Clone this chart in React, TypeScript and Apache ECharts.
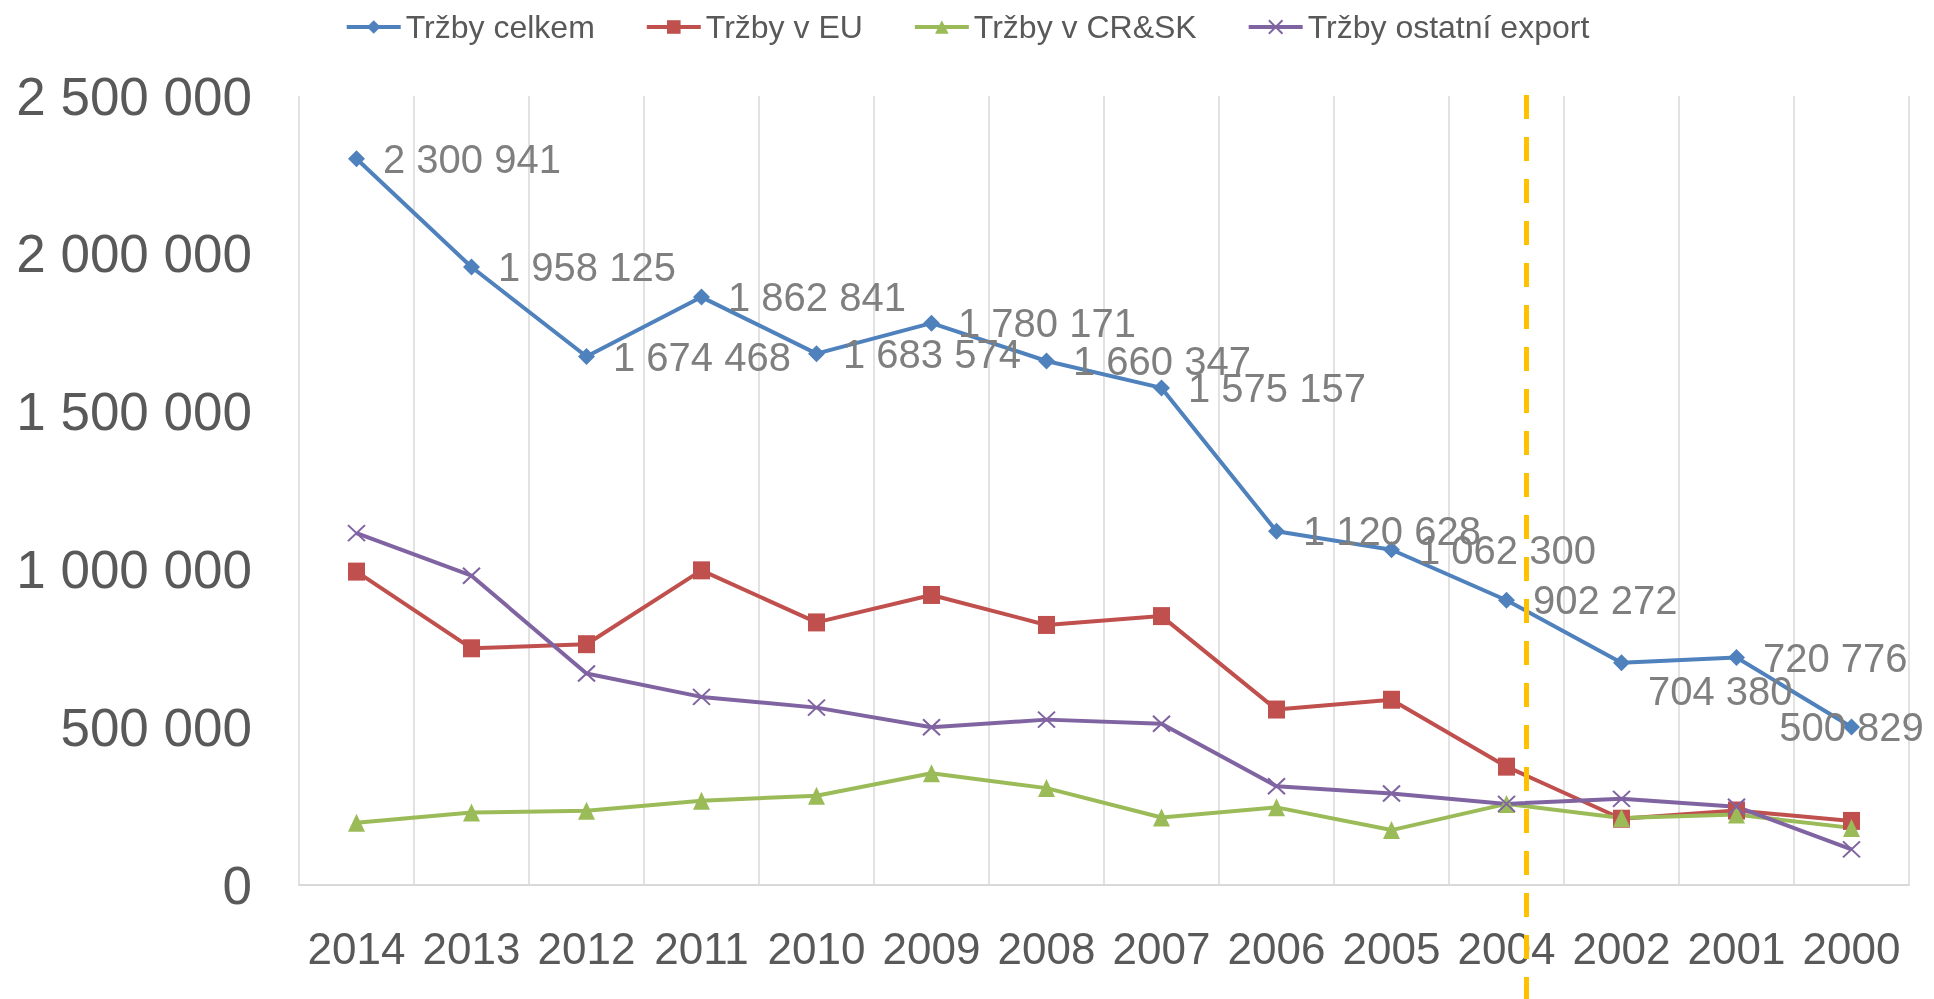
import React, { useEffect, useRef } from "react";
import * as echarts from "echarts";

const categories = ["2014", "2013", "2012", "2011", "2010", "2009", "2008", "2007", "2006", "2005", "2004", "2002", "2001", "2000"];
const totalSales = [2300941, 1958125, 1674468, 1862841, 1683574, 1780171, 1660347, 1575157, 1120628, 1062300, 902272, 704380, 720776, 500829];
const euSales = [993000, 750000, 763000, 997000, 832000, 919000, 824000, 852000, 556000, 587000, 375000, 210000, 236000, 203000];
const crSkSales = [197000, 230000, 235000, 267000, 283000, 354000, 307000, 214000, 246000, 174000, 257000, 212000, 223000, 181000];
const otherExportSales = [1115000, 980000, 670000, 596000, 562000, 500000, 524000, 511000, 313000, 290000, 257000, 273000, 248000, 113000];
const seriesNames = ["Tržby celkem", "Tržby v EU", "Tržby v CR&SK", "Tržby ostatní export"];
const yTicks = [0, 500000, 1000000, 1500000, 2000000, 2500000];
const markerYear = "2004";

const fmt = (v: number) => String(Math.round(v)).replace(/\B(?=(\d{3})+(?!\d))/g, " ");

const FONT = "'Liberation Sans', Arial, sans-serif";

export default function App() {
  const ref = useRef<HTMLDivElement>(null);
  useEffect(() => {
    if (!ref.current) return;
    const chart = echarts.init(ref.current, null, { renderer: "svg" });

    const totalData = totalSales.map((v, i) => {
      const c = categories[i];
      if (c === "2002") return { value: v, label: { offset: [0, 28] } };
      if (c === "2000") return { value: v, label: { position: "inside" } };
      return v;
    });

    const lineBase = (name: string, color: string, data: any[], symbol: string, symbolSize: any, extra: any = {}) => ({
      name,
      type: "line",
      data,
      symbol,
      symbolSize,
      lineStyle: { color, width: 4 },
      itemStyle: { color, borderColor: color, borderWidth: 0 },
      z: 3,
      ...extra,
    });

    chart.setOption({
      animation: false,
      textStyle: { fontFamily: FONT },
      legend: {
        top: 6,
        left: "center",
        itemWidth: 54,
        itemHeight: 17,
        itemGap: 50,
        lineStyle: { width: 4 },
        textStyle: { color: "#595959", fontSize: 32, fontFamily: FONT },
        data: seriesNames,
      },
      grid: { left: 299, right: 25, top: 96, bottom: 114, containLabel: false },
      xAxis: {
        type: "category",
        data: categories,
        boundaryGap: true,
        axisLine: { show: true, lineStyle: { color: "#d9d9d9", width: 2 } },
        axisTick: { show: false },
        axisLabel: { color: "#595959", fontSize: 44, margin: 41, fontFamily: FONT, interval: 0 },
        splitLine: { show: true, lineStyle: { color: "#d9d9d9", width: 1.5 } },
      },
      yAxis: {
        type: "value",
        min: yTicks[0],
        max: yTicks[yTicks.length - 1],
        interval: yTicks[1] - yTicks[0],
        axisLine: { show: false },
        axisTick: { show: false },
        splitLine: { show: false },
        axisLabel: { color: "#595959", fontSize: 53, margin: 47, fontFamily: FONT, formatter: (v: number) => fmt(v) },
      },
      series: [
        lineBase(seriesNames[0], "#4F81BD", totalData, "diamond", [17, 17], {
          z: 4,
          label: {
            show: true,
            position: "right",
            distance: 18,
            color: "#7f7f7f",
            fontSize: 40,
            fontFamily: FONT,
            formatter: (p: any) => fmt(p.value),
          },
        }),
        lineBase(seriesNames[1], "#C0504D", euSales, "rect", [17, 18]),
        lineBase(seriesNames[2], "#9BBB59", crSkSales, "triangle", [17, 18]),
        {
          ...lineBase(seriesNames[3], "#8064A2", otherExportSales, "path://M0,0L16,15M16,0L0,15", [17, 16]),
          itemStyle: { color: "none", borderColor: "#8064A2", borderWidth: 2 },
        },
      ],
    });

    const x = chart.convertToPixel({ xAxisIndex: 0 }, markerYear) as number;
    chart.setOption({
      graphic: [
        {
          type: "line",
          shape: { x1: x + 20, y1: 95, x2: x + 20, y2: 999 },
          style: { stroke: "#FFC000", lineWidth: 5, lineDash: [24, 18] },
          z: 10,
        },
      ],
    });

    return () => chart.dispose();
  }, []);
  return <div ref={ref} style={{ position: "fixed", left: 0, top: 0, width: 1934, height: 999 }} />;
}
